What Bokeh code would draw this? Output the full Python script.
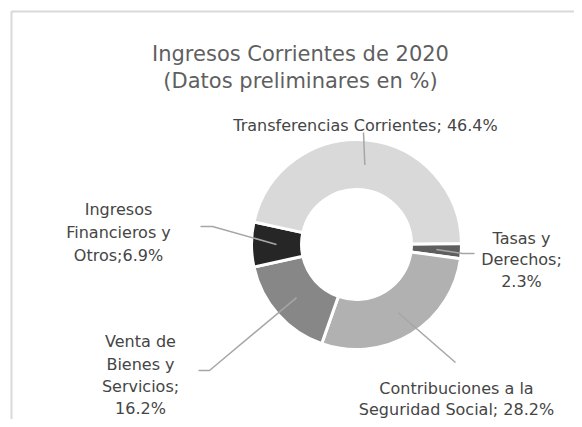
import math
from bokeh.plotting import figure
from bokeh.models import Range1d, ColumnDataSource
from bokeh.core.properties import value
from bokeh.embed import file_html
from bokeh.resources import INLINE

# ---- data ----
categories = ["Tasas y Derechos", "Contribuciones a la Seguridad Social",
              "Venta de Bienes y Servicios", "Ingresos Financieros y Otros",
              "Transferencias Corrientes"]
values = [2.3, 28.2, 16.2, 6.9, 46.4]
label_lines = [
    ["Tasas y", "Derechos;", "2.3%"],
    ["Contribuciones a la", "Seguridad Social; 28.2%"],
    ["Venta de", "Bienes y", "Servicios;", "16.2%"],
    ["Ingresos", "Financieros y", "Otros;6.9%"],
    ["Transferencias Corrientes; 46.4%"],
]
title_lines = ["Ingresos Corrientes de 2020", "(Datos preliminares en %)"]
colors = ["#5e5e5e", "#b1b1b1", "#878787", "#262626", "#d9d9d9"]

# ---- layout (screen pixel coordinates) ----
W, H = 574, 419
def X(px):
    return px
def Y(py):
    return H - py

cx, cy = 356, 244
R_out, R_in = 105, 55
start_deg = 0.5
FONT = value("DejaVu Sans")

label_cx = [521, 456, 140, 118, 365]
label_base = [[238, 259, 281], [388, 409], [341, 364, 386, 408], [209, 232, 255], [125]]
leader_pts = [
    [(462, 253), (474, 253)],
    [(455, 362)],
    [(209, 370), (198, 370)],
    [(212, 226), (200, 226)],
    [(363, 132)],
]

p = figure(width=W, height=H, x_range=Range1d(0, W), y_range=Range1d(0, H),
           x_axis_type=None, y_axis_type=None, toolbar_location=None,
           output_backend="svg", min_border=0)
p.outline_line_color = None
p.xgrid.visible = False
p.ygrid.visible = False
p.background_fill_color = "white"

# chart area frame (extends past right/bottom edges)
p.line(x=[X(11), X(11), X(W + 5)], y=[Y(H + 5), Y(11), Y(11)],
       line_color="#d9d9d9", line_width=2)

# donut slices (clockwise from start angle)
total = sum(values)
starts, ends, mids = [], [], []
cum = 0.0
for v in values:
    a0 = start_deg - (cum + v) / total * 360.0
    a1 = start_deg - cum / total * 360.0
    starts.append(math.radians(a0))
    ends.append(math.radians(a1))
    mids.append(math.radians((a0 + a1) / 2))
    cum += v

src = ColumnDataSource(dict(cat=categories, val=values, start=starts, end=ends, color=colors))
p.annular_wedge(x=X(cx), y=Y(cy), inner_radius=R_in, outer_radius=R_out,
                start_angle="start", end_angle="end", direction="anticlock",
                fill_color="color", line_color="white", line_width=3, source=src)

# leader lines
r_mid = (R_in + R_out) / 2
xs, ys = [], []
for m, pts in zip(mids, leader_pts):
    px0 = cx + r_mid * math.cos(m)
    py0 = cy - r_mid * math.sin(m)
    xs.append([X(px0)] + [X(a) for a, b in pts])
    ys.append([Y(py0)] + [Y(b) for a, b in pts])
p.multi_line(xs=xs, ys=ys, line_color="#a6a6a6", line_width=1.5)

# labels
tx, ty, tt = [], [], []
for lines, lx, bases in zip(label_lines, label_cx, label_base):
    for line, b in zip(lines, bases):
        tx.append(X(lx)); ty.append(Y(b)); tt.append(line)
p.text(x=tx, y=ty, text=tt, text_align="center", text_baseline="alphabetic",
       text_font=FONT, text_font_size="16px", text_color="#454545")

# title
p.text(x=[X(300), X(300)], y=[Y(53), Y(80)], text=title_lines,
       text_align="center", text_baseline="alphabetic",
       text_font=FONT, text_font_size="21px", text_color="#5f5f5f")

open("out.html", "w").write(file_html(p, INLINE))
